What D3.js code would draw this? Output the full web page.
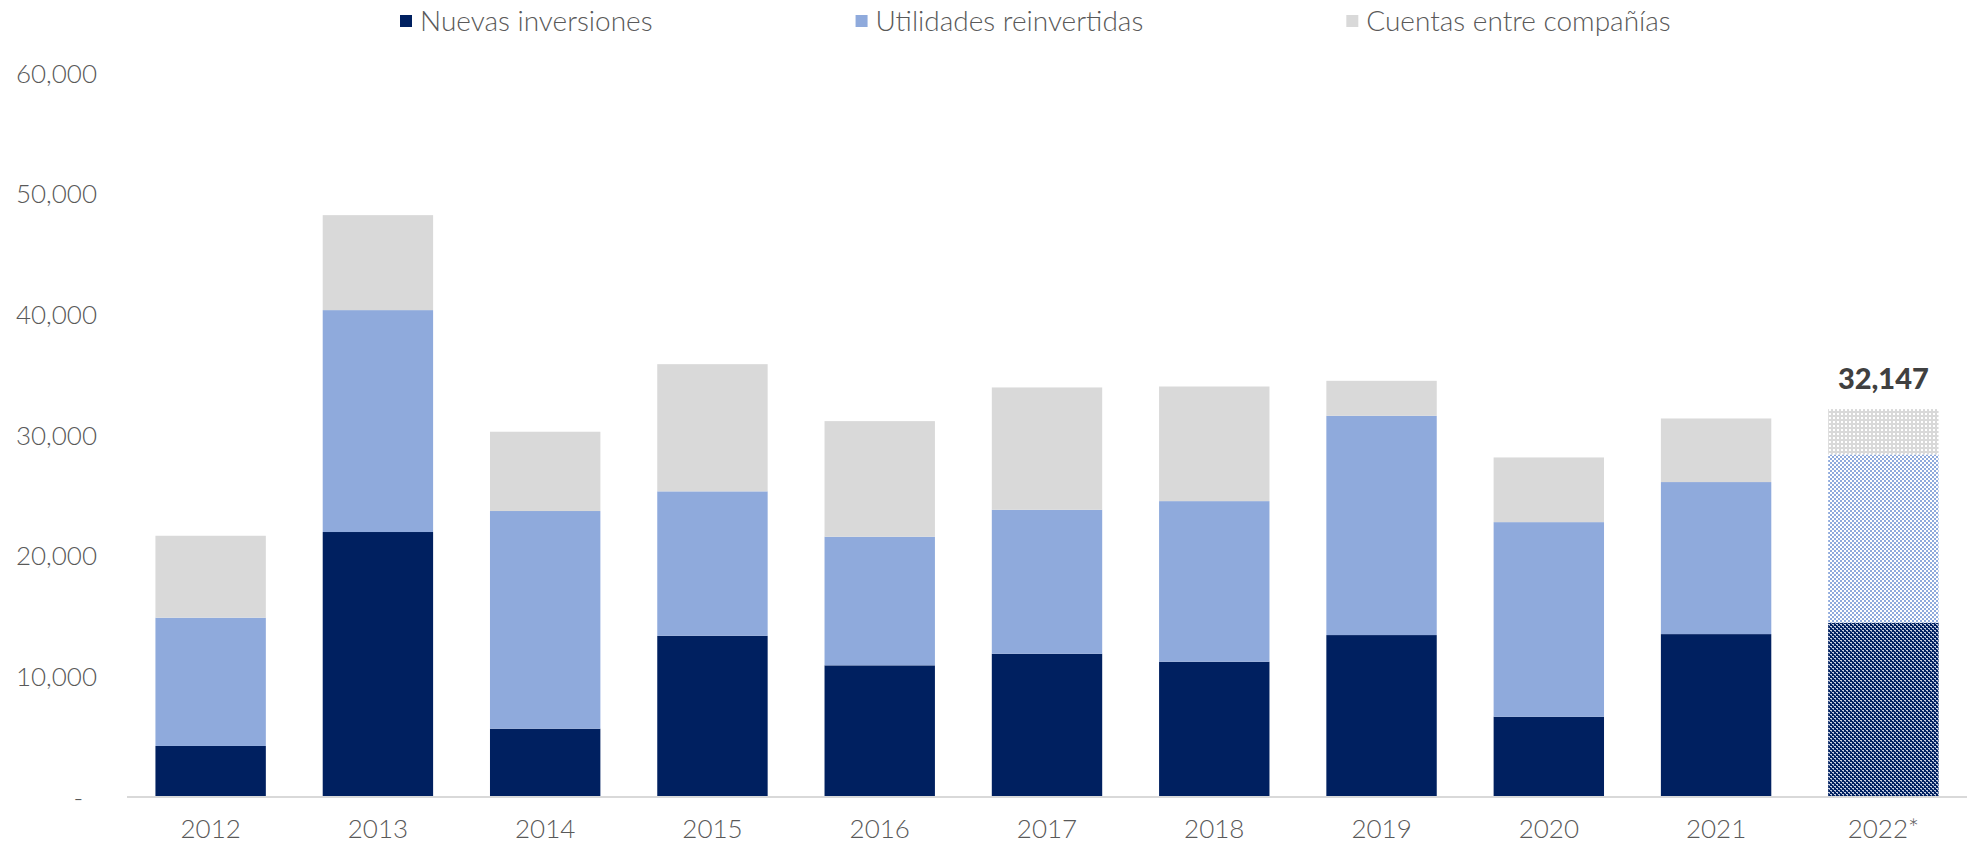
<!DOCTYPE html>
<html>
<head>
<meta charset="utf-8">
<script src="https://cdn.jsdelivr.net/npm/d3@7"></script>
<style>
  body { margin: 0; background: #fff; }
  text { font-family: Lato, "Noto Sans", sans-serif; fill: #595959; font-weight: 300; }
  .tick text { font-size: 26px; }
  .legend text { font-size: 28px; }
  .total { font-size: 29px; font-weight: 900; fill: #404040; }
</style>
</head>
<body>
<svg id="chart" width="1971" height="846"></svg>
<script>
// datos (millones de dólares)
var years = ["2012", "2013", "2014", "2015", "2016", "2017", "2018", "2019", "2020", "2021", "2022*"];
var nuevas = [4230, 21960, 5660, 13360, 10910, 11870, 11210, 13420, 6650, 13500, 14440];
var utilidades = [10630, 18390, 18040, 11970, 10660, 11930, 13310, 18170, 16130, 12600, 13950];
var cuentas = [6790, 7870, 6570, 10540, 9580, 10140, 9500, 2900, 5360, 5270, 3757];
var seriesNames = ["Nuevas inversiones", "Utilidades reinvertidas", "Cuentas entre compañías"];
var yTicks = [0, 10000, 20000, 30000, 40000, 50000, 60000];

var colors = ["#002060", "#8FAADC", "#D9D9D9"];
var keys = ["n", "u", "c"];

var svg = d3.select("#chart");

// offsets
var plotLeft = 127, plotRight = 1967;
var plotTop = 73, plotBottom = 797;

var rows = years.map(function(yr, i) {
  return { year: yr, n: nuevas[i], u: utilidades[i], c: cuentas[i] };
});
var stacked = d3.stack().keys(keys)(rows);

var x = d3.scaleBand()
  .domain(years)
  .range([plotLeft, plotRight])
  .paddingInner(0.34)
  .paddingOuter(0.17);

var y = d3.scaleLinear()
  .domain([0, 60000])
  .range([plotBottom, plotTop]);

// patrones para 2022 (preliminar)
var defs = svg.append("defs");
var pn = defs.append("pattern").attr("id", "pat0").attr("patternUnits", "userSpaceOnUse")
  .attr("width", 4).attr("height", 4);
pn.append("rect").attr("width", 4).attr("height", 4).attr("fill", colors[0]);
pn.append("rect").attr("x", 0).attr("y", 0).attr("width", 2).attr("height", 1).attr("fill", "#c9d1e3");
pn.append("rect").attr("x", 2).attr("y", 2).attr("width", 2).attr("height", 1).attr("fill", "#c9d1e3");
pn.append("rect").attr("x", 1).attr("y", 1).attr("width", 1).attr("height", 1).attr("fill", "#8d9bbd");
pn.append("rect").attr("x", 3).attr("y", 3).attr("width", 1).attr("height", 1).attr("fill", "#8d9bbd");

var pu = defs.append("pattern").attr("id", "pat1").attr("patternUnits", "userSpaceOnUse")
  .attr("width", 4).attr("height", 4);
pu.append("rect").attr("width", 4).attr("height", 4).attr("fill", "#ffffff");
pu.append("rect").attr("width", 2).attr("height", 2).attr("fill", colors[1]);
pu.append("rect").attr("x", 2).attr("y", 2).attr("width", 2).attr("height", 2).attr("fill", colors[1]);

var pc = defs.append("pattern").attr("id", "pat2").attr("patternUnits", "userSpaceOnUse")
  .attr("width", 4).attr("height", 4);
pc.append("rect").attr("width", 4).attr("height", 4).attr("fill", colors[2]);
pc.append("rect").attr("x", 1).attr("y", 1).attr("width", 2).attr("height", 2).attr("fill", "#ffffff");

// barras
var layer = svg.append("g").selectAll("g")
  .data(stacked)
  .enter().append("g");

layer.selectAll("rect")
  .data(function(d, k) { return d.map(function(v) { return { v: v, k: k }; }); })
  .enter().append("rect")
  .attr("x", function(d) { return x(d.v.data.year); })
  .attr("width", x.bandwidth())
  .attr("y", function(d) { return y(d.v[1]); })
  .attr("height", function(d) { return y(d.v[0]) - y(d.v[1]); })
  .attr("fill", function(d) {
    return d.v.data.year === "2022*" ? "url(#pat" + d.k + ")" : colors[d.k];
  });

// total del último año
var last = rows[rows.length - 1];
var lastTotal = last.n + last.u + last.c;
svg.append("text")
  .attr("class", "total")
  .attr("x", x(last.year) + x.bandwidth() / 2)
  .attr("y", y(lastTotal) - 20)
  .attr("text-anchor", "middle")
  .text(d3.format(",")(lastTotal));

// eje y
var yAxis = d3.axisLeft(y)
  .tickValues(yTicks)
  .tickSize(0)
  .tickPadding(0)
  .tickFormat(function(d) { return d === 0 ? "-" : d3.format(",")(d); });

var gy = svg.append("g")
  .attr("transform", "translate(97,0)")
  .call(yAxis);
gy.select(".domain").remove();
gy.selectAll(".tick text").attr("dy", "0.35em")
  .attr("dx", function(d) { return d === 0 ? -14 : 0; });

// eje x
var xAxis = d3.axisBottom(x).tickSize(0).tickPadding(23);
var gx = svg.append("g")
  .attr("transform", "translate(0," + plotBottom + ")")
  .call(xAxis);
gx.select(".domain").attr("stroke", "#D9D9D9").attr("stroke-width", 2)
  .attr("d", "M" + plotLeft + ",0H" + plotRight);
gx.selectAll(".tick text").attr("dy", "0.71em");

// leyenda
var legend = svg.append("g").attr("class", "legend");
var lx = 400;
seriesNames.forEach(function(name, i) {
  var g = legend.append("g").attr("transform", "translate(" + lx + ",0)");
  g.append("rect").attr("x", 0).attr("y", 15).attr("width", 12).attr("height", 12).attr("fill", colors[i]);
  var t = g.append("text").attr("x", 20).attr("y", 21).attr("dy", "0.35em").text(name);
  lx += 20 + t.node().getComputedTextLength() + 203;
});
</script>
</body>
</html>
